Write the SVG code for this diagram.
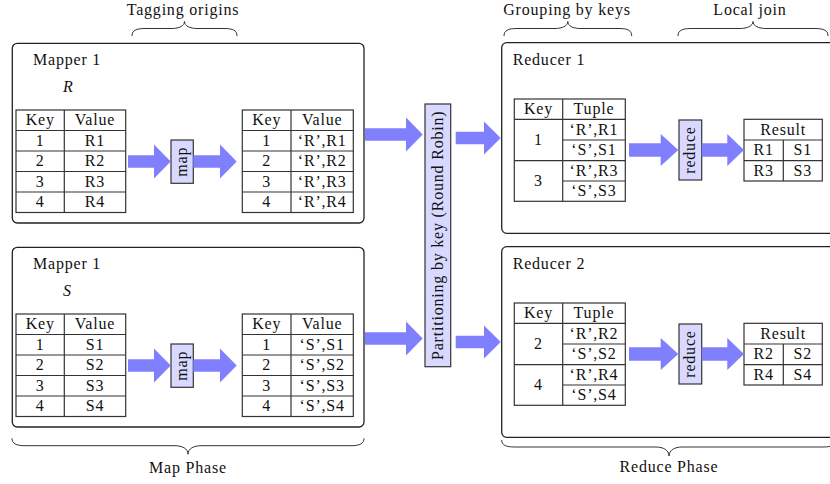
<svg xmlns="http://www.w3.org/2000/svg" width="830" height="484" viewBox="0 0 830 484">
<style>
text{font-family:"Liberation Serif","Times New Roman",serif;font-size:16px;letter-spacing:0.8px;fill:#111}
.c{text-anchor:middle}
.it{font-style:italic}
.box{fill:#fff;stroke:#222;stroke-width:1.3}
.tbl{fill:#fff;stroke:#333;stroke-width:1.2}
.ln{stroke:#333;stroke-width:1.2;fill:none}
.op{fill:#d9d9ff;stroke:#333;stroke-width:1.2}
.arr{fill:#8080ff;stroke:none}
.brace{fill:none;stroke:#333;stroke-width:1}
</style>

<!-- Braces and phase labels -->
<g id="labels">
<path class="brace" d="M132,36 C132,30.5 136,28.5 145,28.5 L172,28.5 C179,28.5 184.5,26 184.5,21.5 C184.5,26 190,28.5 197,28.5 L224,28.5 C233,28.5 237,30.5 237,36"/>
<text class="c" x="183" y="14.5">Tagging origins</text>
<path class="brace" d="M504,36 C504,30.5 508,28.5 517,28.5 L555,28.5 C562,28.5 567.8,26 567.8,21.5 C567.8,26 573,28.5 580,28.5 L619,28.5 C628,28.5 631.7,30.5 631.7,36"/>
<text class="c" x="567" y="14.5">Grouping by keys</text>
<path class="brace" d="M678,36 C678,30.5 682,28.5 691,28.5 L740,28.5 C747,28.5 753,26 753,21.5 C753,26 759,28.5 766,28.5 L815,28.5 C824,28.5 828,30.5 828,36"/>
<text class="c" x="750" y="14.5">Local join</text>
<path class="brace" d="M12,438.3 C12,443.5 16,445.7 25,445.7 L175,445.7 C182,445.7 188,448.5 188,454.3 C188,448.5 194,445.7 201,445.7 L351,445.7 C360,445.7 364,443.5 364,438.3"/>
<text class="c" x="188" y="473">Map Phase</text>
<path class="brace" d="M501.7,440 C501.7,445 505.7,447 514.7,447 L656,447 C663,447 669,450 669,456 C669,450 675,447 682,447 L823,447 C832,447 836,445 836,440"/>
<text class="c" x="669" y="472">Reduce Phase</text>
</g>

<!-- Mapper 1 (R) -->
<g id="mapper1">
<rect class="box" x="12.3" y="43.3" width="351.7" height="179.7" rx="5"/>
<text x="33" y="65">Mapper 1</text>
<text class="it" x="63" y="92">R</text>
<g id="mapper1-in">
<rect class="tbl" x="16" y="110" width="109.7" height="102.5"/>
<path class="ln" d="M64.3,110 V212.5 M16,130.5 H125.7 M16,151 H125.7 M16,171.5 H125.7 M16,192 H125.7"/>
<text class="c" x="40.2" y="125.3">Key</text><text class="c" x="95" y="125.3">Value</text>
<text class="c" x="40.2" y="145.8">1</text><text class="c" x="95" y="145.8">R1</text>
<text class="c" x="40.2" y="166.3">2</text><text class="c" x="95" y="166.3">R2</text>
<text class="c" x="40.2" y="186.8">3</text><text class="c" x="95" y="186.8">R3</text>
<text class="c" x="40.2" y="207.3">4</text><text class="c" x="95" y="207.3">R4</text>
</g>
<g id="map1">
<rect class="op" x="171" y="140" width="22.3" height="43.3"/>
<text class="c" transform="translate(182.2,161.7) rotate(-90)" x="0" y="5">map</text>
</g>
<g id="mapper1-out">
<rect class="tbl" x="242.3" y="110" width="111" height="102.5"/>
<path class="ln" d="M291,110 V212.5 M242.3,130.5 H353.3 M242.3,151 H353.3 M242.3,171.5 H353.3 M242.3,192 H353.3"/>
<text class="c" x="266.7" y="125.3">Key</text><text class="c" x="322.2" y="125.3">Value</text>
<text class="c" x="266.7" y="145.8">1</text><text class="c" x="322.2" y="145.8">‘R’,R1</text>
<text class="c" x="266.7" y="166.3">2</text><text class="c" x="322.2" y="166.3">‘R’,R2</text>
<text class="c" x="266.7" y="186.8">3</text><text class="c" x="322.2" y="186.8">‘R’,R3</text>
<text class="c" x="266.7" y="207.3">4</text><text class="c" x="322.2" y="207.3">‘R’,R4</text>
</g>
</g>

<!-- Mapper 1 (S) -->
<g id="mapper2">
<rect class="box" x="12.3" y="247.3" width="351.7" height="179.7" rx="5"/>
<text x="33" y="269">Mapper 1</text>
<text class="it" x="63" y="296">S</text>
<g id="mapper2-in">
<rect class="tbl" x="16" y="314" width="109.7" height="102.5"/>
<path class="ln" d="M64.3,314 V416.5 M16,334.5 H125.7 M16,355 H125.7 M16,375.5 H125.7 M16,396 H125.7"/>
<text class="c" x="40.2" y="329.3">Key</text><text class="c" x="95" y="329.3">Value</text>
<text class="c" x="40.2" y="349.8">1</text><text class="c" x="95" y="349.8">S1</text>
<text class="c" x="40.2" y="370.3">2</text><text class="c" x="95" y="370.3">S2</text>
<text class="c" x="40.2" y="390.8">3</text><text class="c" x="95" y="390.8">S3</text>
<text class="c" x="40.2" y="411.3">4</text><text class="c" x="95" y="411.3">S4</text>
</g>
<g id="map2">
<rect class="op" x="171" y="344" width="22.3" height="43.3"/>
<text class="c" transform="translate(182.2,365.7) rotate(-90)" x="0" y="5">map</text>
</g>
<g id="mapper2-out">
<rect class="tbl" x="242.3" y="314" width="111" height="102.5"/>
<path class="ln" d="M291,314 V416.5 M242.3,334.5 H353.3 M242.3,355 H353.3 M242.3,375.5 H353.3 M242.3,396 H353.3"/>
<text class="c" x="266.7" y="329.3">Key</text><text class="c" x="322.2" y="329.3">Value</text>
<text class="c" x="266.7" y="349.8">1</text><text class="c" x="322.2" y="349.8">‘S’,S1</text>
<text class="c" x="266.7" y="370.3">2</text><text class="c" x="322.2" y="370.3">‘S’,S2</text>
<text class="c" x="266.7" y="390.8">3</text><text class="c" x="322.2" y="390.8">‘S’,S3</text>
<text class="c" x="266.7" y="411.3">4</text><text class="c" x="322.2" y="411.3">‘S’,S4</text>
</g>
</g>

<!-- Partitioning -->
<g id="partition">
<rect class="op" x="425" y="104" width="25.7" height="262.7"/>
<text class="c" transform="translate(437.8,235.3) rotate(-90)" x="0" y="5">Partitioning by key (Round Robin)</text>
</g>

<!-- Reducer 1 -->
<g id="reducer1">
<rect class="box" x="501.7" y="42.7" width="340" height="190.6" rx="5"/>
<text x="512.7" y="65">Reducer 1</text>
<g id="reducer1-in">
<rect class="tbl" x="514.3" y="99" width="111" height="102.3"/>
<path class="ln" d="M562.7,99 V201.3 M514.3,119.3 H625.3 M514.3,160.7 H625.3 M562.7,140 H625.3 M562.7,181 H625.3"/>
<text class="c" x="538.5" y="114.2">Key</text><text class="c" x="594" y="114.2">Tuple</text>
<text class="c" x="538.5" y="145">1</text><text class="c" x="538.5" y="186">3</text>
<text class="c" x="594" y="134.7">‘R’,R1</text>
<text class="c" x="594" y="155.4">‘S’,S1</text>
<text class="c" x="594" y="175.9">‘R’,R3</text>
<text class="c" x="594" y="196.2">‘S’,S3</text>
</g>
<g id="reduce1">
<rect class="op" x="679" y="120" width="22.7" height="60"/>
<text class="c" transform="translate(690.3,150) rotate(-90)" x="0" y="5">reduce</text>
</g>
<g id="result1">
<rect class="tbl" x="744" y="119.3" width="78.3" height="61.7"/>
<path class="ln" d="M744,140 H822.3 M744,160.7 H822.3 M783.3,140 V181"/>
<text class="c" x="783.2" y="134.7">Result</text>
<text class="c" x="763.7" y="155.4">R1</text><text class="c" x="802.8" y="155.4">S1</text>
<text class="c" x="763.7" y="175.9">R3</text><text class="c" x="802.8" y="175.9">S3</text>
</g>
</g>

<!-- Reducer 2 -->
<g id="reducer2">
<rect class="box" x="501.7" y="246.7" width="340" height="190.6" rx="5"/>
<text x="512.7" y="269">Reducer 2</text>
<g id="reducer2-in">
<rect class="tbl" x="514.3" y="303" width="111" height="102.3"/>
<path class="ln" d="M562.7,303 V405.3 M514.3,323.3 H625.3 M514.3,364.7 H625.3 M562.7,344 H625.3 M562.7,385 H625.3"/>
<text class="c" x="538.5" y="318.2">Key</text><text class="c" x="594" y="318.2">Tuple</text>
<text class="c" x="538.5" y="349">2</text><text class="c" x="538.5" y="390">4</text>
<text class="c" x="594" y="338.7">‘R’,R2</text>
<text class="c" x="594" y="359.4">‘S’,S2</text>
<text class="c" x="594" y="379.9">‘R’,R4</text>
<text class="c" x="594" y="400.2">‘S’,S4</text>
</g>
<g id="reduce2">
<rect class="op" x="679" y="324" width="22.7" height="60"/>
<text class="c" transform="translate(690.3,354) rotate(-90)" x="0" y="5">reduce</text>
</g>
<g id="result2">
<rect class="tbl" x="744" y="323.3" width="78.3" height="61.7"/>
<path class="ln" d="M744,344 H822.3 M744,364.7 H822.3 M783.3,344 V385"/>
<text class="c" x="783.2" y="338.7">Result</text>
<text class="c" x="763.7" y="359.4">R2</text><text class="c" x="802.8" y="359.4">S2</text>
<text class="c" x="763.7" y="379.9">R4</text><text class="c" x="802.8" y="379.9">S4</text>
</g>
</g>

<!-- Connectors (block arrows), drawn on top of the node boxes -->
<g id="connectors">
<path class="arr" d="M128,155.2 H154 V144.5 L170.7,161.5 L154,178.5 V167.8 H128 Z"/>
<path class="arr" d="M193.3,155.2 H220 V144.5 L236.7,161.5 L220,178.5 V167.8 H193.3 Z"/>
<path class="arr" d="M365,128.2 H406 V117.5 L422.7,134.5 L406,151.5 V140.8 H365 Z"/>
<path class="arr" d="M128,359.2 H154 V348.5 L170.7,365.5 L154,382.5 V371.8 H128 Z"/>
<path class="arr" d="M193.3,359.2 H220 V348.5 L236.7,365.5 L220,382.5 V371.8 H193.3 Z"/>
<path class="arr" d="M365,332.2 H406 V321.5 L422.7,338.5 L406,355.5 V344.8 H365 Z"/>
<path class="arr" d="M455.7,131.7 H484 V121.5 L500.7,138 L484,154.5 V144.3 H455.7 Z"/>
<path class="arr" d="M455.7,335.7 H484 V325.5 L500.7,342 L484,358.5 V348.3 H455.7 Z"/>
<path class="arr" d="M629,143.3 H660.7 V134 L678.3,150 L660.7,166 V156.7 H629 Z"/>
<path class="arr" d="M701.7,143.3 H727.3 V134 L744,150 L727.3,166 V156.7 H701.7 Z"/>
<path class="arr" d="M629,347.3 H660.7 V338 L678.3,354 L660.7,370 V360.7 H629 Z"/>
<path class="arr" d="M701.7,347.3 H727.3 V338 L744,354 L727.3,370 V360.7 H701.7 Z"/>
</g>
</svg>
